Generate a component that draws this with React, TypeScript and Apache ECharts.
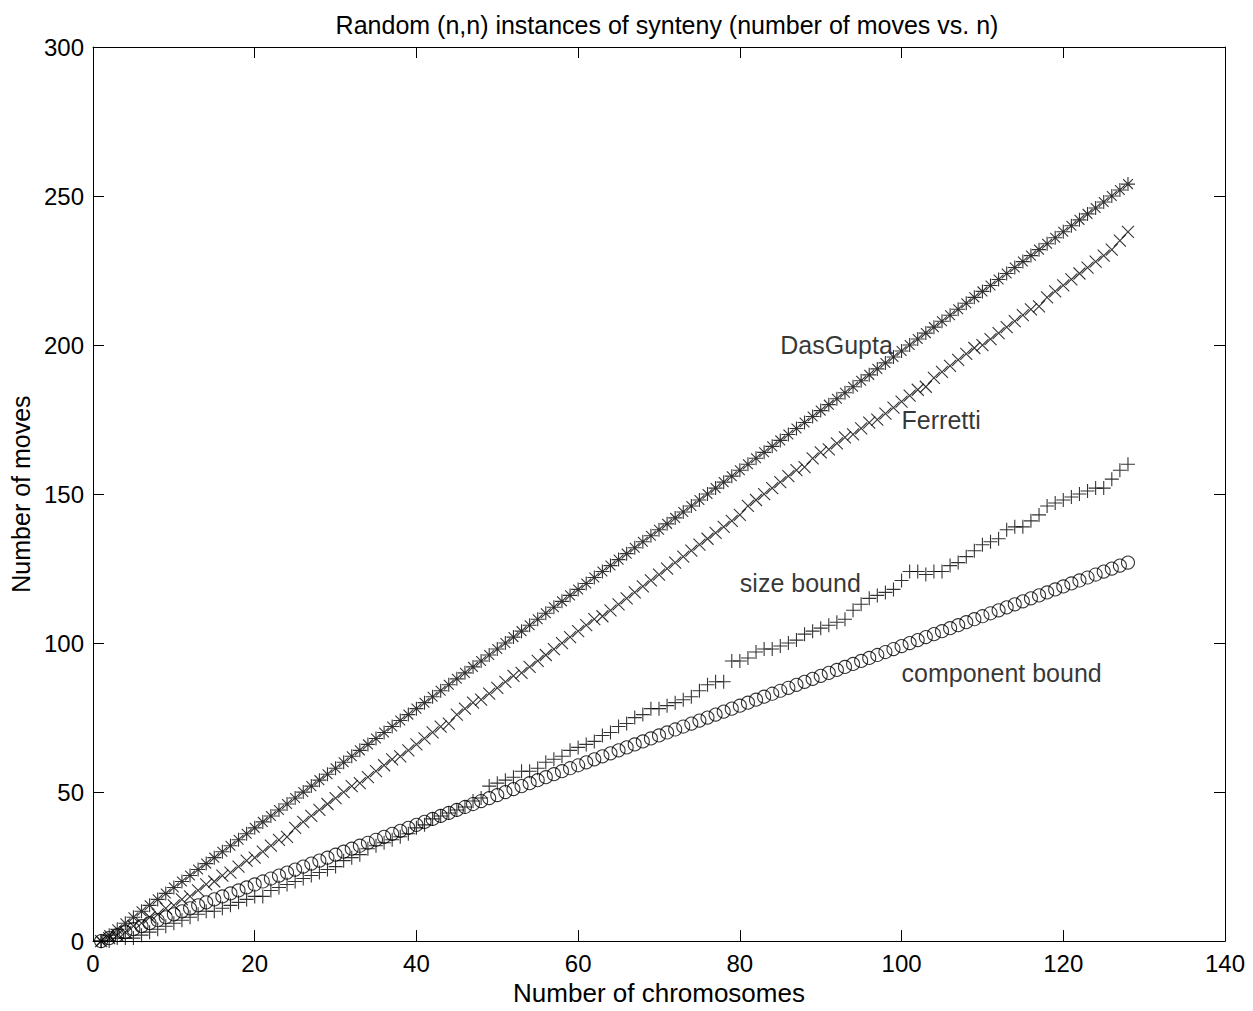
import React, { useEffect, useRef } from "react";
import * as echarts from "echarts";

const nValues = [
  1, 2, 3, 4, 5, 6, 7, 8, 9, 10, 11, 12, 13, 14, 15, 16, 17, 18, 19, 20,
  21, 22, 23, 24, 25, 26, 27, 28, 29, 30, 31, 32, 33, 34, 35, 36, 37, 38, 39, 40,
  41, 42, 43, 44, 45, 46, 47, 48, 49, 50, 51, 52, 53, 54, 55, 56, 57, 58, 59, 60,
  61, 62, 63, 64, 65, 66, 67, 68, 69, 70, 71, 72, 73, 74, 75, 76, 77, 78, 79, 80,
  81, 82, 83, 84, 85, 86, 87, 88, 89, 90, 91, 92, 93, 94, 95, 96, 97, 98, 99, 100,
  101, 102, 103, 104, 105, 106, 107, 108, 109, 110, 111, 112, 113, 114, 115, 116, 117, 118, 119, 120,
  121, 122, 123, 124, 125, 126, 127, 128,
];

const dasGupta = [
  0, 2, 4, 6, 8, 10, 12, 14, 16, 18, 20, 22, 24, 26, 28, 30, 32, 34, 36, 38,
  40, 42, 44, 46, 48, 50, 52, 54, 56, 58, 60, 62, 64, 66, 68, 70, 72, 74, 76, 78,
  80, 82, 84, 86, 88, 90, 92, 94, 96, 98, 100, 102, 104, 106, 108, 110, 112, 114, 116, 118,
  120, 122, 124, 126, 128, 130, 132, 134, 136, 138, 140, 142, 144, 146, 148, 150, 152, 154, 156, 158,
  160, 162, 164, 166, 168, 170, 172, 174, 176, 178, 180, 182, 184, 186, 188, 190, 192, 194, 196, 198,
  200, 202, 204, 206, 208, 210, 212, 214, 216, 218, 220, 222, 224, 226, 228, 230, 232, 234, 236, 238,
  240, 242, 244, 246, 248, 250, 252, 254,
];

const ferretti = [
  0, 1, 2, 3, 5, 6, 8, 9, 11, 12, 14, 15, 17, 19, 20, 22, 23, 25, 27, 28,
  30, 32, 34, 35, 38, 40, 42, 44, 46, 48, 50, 52, 53, 55, 57, 59, 61, 62, 64, 66,
  68, 70, 72, 73, 76, 78, 80, 81, 83, 85, 87, 89, 90, 92, 94, 96, 98, 100, 102, 104,
  106, 108, 109, 111, 113, 115, 117, 119, 121, 123, 125, 127, 129, 131, 133, 135, 137, 139, 141, 143,
  146, 148, 150, 152, 154, 156, 158, 159, 162, 164, 165, 167, 169, 170, 172, 174, 175, 177, 179, 181,
  183, 185, 186, 189, 191, 193, 195, 197, 199, 200, 202, 204, 206, 208, 210, 212, 213, 216, 218, 220,
  222, 224, 226, 228, 230, 232, 235, 238,
];

const sizeBound = [
  0, 0, 1, 1, 1, 2, 3, 4, 5, 6, 7, 8, 9, 10, 10, 11, 12, 13, 14, 15,
  15, 17, 18, 19, 20, 21, 22, 23, 24, 25, 27, 28, 29, 31, 32, 33, 34, 35, 36, 38,
  39, 41, 42, 43, 44, 45, 47, 48, 52, 53, 54, 55, 57, 57, 58, 60, 61, 62, 64, 65,
  66, 67, 69, 70, 72, 73, 75, 76, 78, 78, 79, 80, 81, 82, 84, 86, 87, 87, 94, 94,
  95, 97, 98, 98, 99, 100, 101, 103, 104, 105, 106, 107, 108, 111, 113, 115, 116, 117, 118, 121,
  124, 124, 123, 124, 124, 126, 127, 129, 131, 133, 134, 135, 138, 139, 139, 141, 143, 146, 147, 148,
  149, 150, 151, 152, 152, 155, 158, 160,
];

const componentBound = [
  0, 1, 2, 3, 4, 5, 6, 7, 8, 9, 10, 11, 12, 13, 14, 15, 16, 17, 18, 19,
  20, 21, 22, 23, 24, 25, 26, 27, 28, 29, 30, 31, 32, 33, 34, 35, 36, 37, 38, 39,
  40, 41, 42, 43, 44, 45, 46, 47, 48, 49, 50, 51, 52, 53, 54, 55, 56, 57, 58, 59,
  60, 61, 62, 63, 64, 65, 66, 67, 68, 69, 70, 71, 72, 73, 74, 75, 76, 77, 78, 79,
  80, 81, 82, 83, 84, 85, 86, 87, 88, 89, 90, 91, 92, 93, 94, 95, 96, 97, 98, 99,
  100, 101, 102, 103, 104, 105, 106, 107, 108, 109, 110, 111, 112, 113, 114, 115, 116, 117, 118, 119,
  120, 121, 122, 123, 124, 125, 126, 127,
];

const annotationTexts = ["DasGupta", "Ferretti", "size bound", "component bound"];
const annotationX = [85, 100, 80, 100];
const annotationY = [200, 175, 120, 90];

const xTicks = { min: 0, max: 140, interval: 20 };
const yTicks = { min: 0, max: 300, interval: 50 };

const FONT = "'Liberation Sans', Arial, Helvetica, sans-serif";
const FS = 24;

const pair = (ys: number[]) => ys.map((v, i) => [nValues[i], v]);

export default function App() {
  const ref = useRef<HTMLDivElement>(null);
  useEffect(() => {
    if (!ref.current) return;
    const chart = echarts.init(ref.current, null, { renderer: "svg" });
    const markerStyle = { color: "none", borderColor: "#000", borderWidth: 1.1 };
    const axisCommon = {
      type: "value" as const,
      axisLine: { show: true, onZero: false, lineStyle: { color: "#000", width: 1 } },
      axisTick: { show: true, inside: true, length: 11, lineStyle: { color: "#000", width: 1 } },
      splitLine: { show: false },
    };
    chart.setOption({
      animation: false,
      backgroundColor: "#fff",
      textStyle: { fontFamily: FONT },
      title: {
        text: "Random (n,n) instances of synteny (number of moves vs. n)",
        left: 662,
        top: 7,
        textAlign: "center",
        textStyle: { fontSize: 25, fontWeight: "normal", color: "#000", fontFamily: FONT },
      },
      grid: { left: 93, right: 28, top: 47, bottom: 68 },
      xAxis: [
        {
          ...axisCommon,
          ...xTicks,
          position: "bottom",
          axisLabel: { color: "#000", fontSize: FS, margin: 10, fontFamily: FONT },
          name: "Number of chromosomes",
          nameLocation: "middle",
          nameGap: 35,
          nameTextStyle: { color: "#000", fontSize: 26, fontFamily: FONT },
        },
        {
          ...axisCommon,
          ...xTicks,
          position: "top",
          axisLabel: { show: false },
        },
      ],
      yAxis: [
        {
          ...axisCommon,
          ...yTicks,
          position: "left",
          axisLabel: { color: "#000", fontSize: FS, margin: 9, fontFamily: FONT },
          name: "Number of moves",
          nameLocation: "middle",
          nameGap: 58,
          nameTextStyle: { color: "#000", fontSize: 25, fontFamily: FONT },
        },
        {
          ...axisCommon,
          ...yTicks,
          position: "right",
          axisLabel: { show: false },
        },
      ],
      series: [
        {
          name: "DasGupta",
          type: "scatter",
          data: pair(dasGupta),
          symbol: "path://M5,0L5,10M0,5L10,5M1.5,1.5L8.5,8.5M1.5,8.5L8.5,1.5",
          symbolSize: 14,
          itemStyle: markerStyle,
        },
        {
          name: "Ferretti",
          type: "scatter",
          data: pair(ferretti),
          symbol: "path://M0,0L10,10M0,10L10,0",
          symbolSize: 12,
          itemStyle: markerStyle,
        },
        {
          name: "size bound",
          type: "scatter",
          data: pair(sizeBound),
          symbol: "path://M5,0L5,10M0,5L10,5",
          symbolSize: 14,
          itemStyle: markerStyle,
        },
        {
          name: "component bound",
          type: "scatter",
          data: pair(componentBound),
          symbol: "circle",
          symbolSize: 13,
          itemStyle: markerStyle,
        },
        {
          name: "labels",
          type: "scatter",
          data: annotationTexts.map((t, i) => [annotationX[i], annotationY[i], t]),
          symbolSize: 0,
          silent: true,
          label: {
            show: true,
            position: "right",
            distance: 0,
            formatter: (p: any) => p.value[2],
            color: "#000",
            fontSize: 25,
            fontFamily: FONT,
          },
        },
      ],
    });
    return () => chart.dispose();
  }, []);
  return (
    <div
      ref={ref}
      style={{ position: "fixed", left: 0, top: 0, width: 1253, height: 1011, background: "#fff" }}
    />
  );
}
